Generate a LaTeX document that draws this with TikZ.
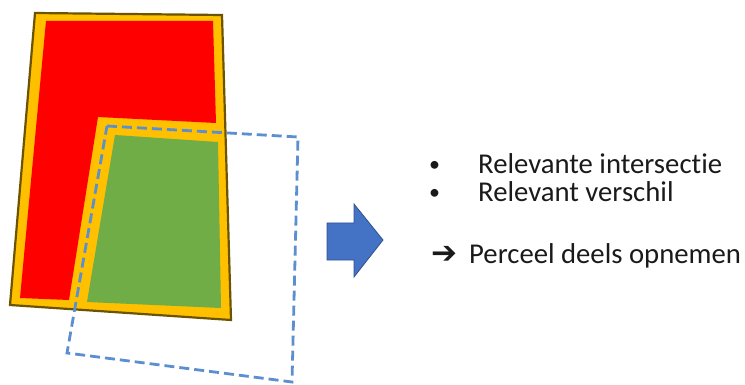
\documentclass[tikz,border=0pt]{standalone}
\usepackage{fontspec}
\setmainfont{Carlito}[Ligatures={NoCommon,NoRare,NoDiscretionary}]
\newfontfamily\symfont{DejaVu Sans Bold}
\definecolor{parcelred}{HTML}{FF0000}
\definecolor{bandorange}{HTML}{FFC000}
\definecolor{parcelgreen}{HTML}{70AD47}
\definecolor{edgebrown}{HTML}{6B5300}
\definecolor{dashblue}{HTML}{5B8FCF}
\definecolor{arrowblue}{HTML}{4472C4}
\definecolor{arrowedge}{HTML}{2F528F}
\definecolor{txt}{HTML}{1A1A1A}
\tikzset{
  txtnode/.style={anchor=base west, inner sep=0pt, text=txt, font=\fontsize{28.7}{32}\selectfont},
  bulletnode/.style={anchor=base west, inner sep=0pt, text=txt, font=\fontsize{22}{26}\selectfont},
}
\begin{document}
\begin{tikzpicture}[x=1pt,y=-1pt]
\useasboundingbox (0,0) rectangle (745,385);
% outer parcel with orange band
\fill[bandorange, draw=edgebrown, line width=2.2pt, line join=miter]
  (35,13) -- (222,15) -- (231,320) -- (10,305) -- cycle;
% red part
\fill[parcelred] (46,21) -- (213,21) -- (216,123) -- (98,117) -- (69,300) -- (20,298) -- cycle;
% green part
\fill[parcelgreen] (115,135) -- (218,142) -- (221,308) -- (87,302) -- cycle;
% blue dashed rectangle
\draw[dashblue, line width=2.8pt, dash pattern=on 10pt off 5pt]
  (107,126) -- (298,137) -- (292,382) -- (67,353) -- cycle;
% blue block arrow
\draw[fill=arrowblue, draw=arrowedge, line width=0.8pt, line join=miter]
  (327,223) -- (354,223) -- (354,204) -- (383,240) -- (354,277) -- (354,260) -- (327,260) -- cycle;
% text
\node[bulletnode] (b1) at (429,172) {•};
\node[txtnode] (t1) at (478,174) {Relevante intersectie};
\node[bulletnode] (b2) at (429,200) {•};
\node[txtnode] (t2) at (478,202) {Relevant verschil};
\node[txtnode, font=\symfont\fontsize{31}{34}\selectfont] (ar) at (431,263) {➔};
\node[txtnode] (t3) at (469,263) {Perceel deels opnemen};
\end{tikzpicture}
\end{document}
